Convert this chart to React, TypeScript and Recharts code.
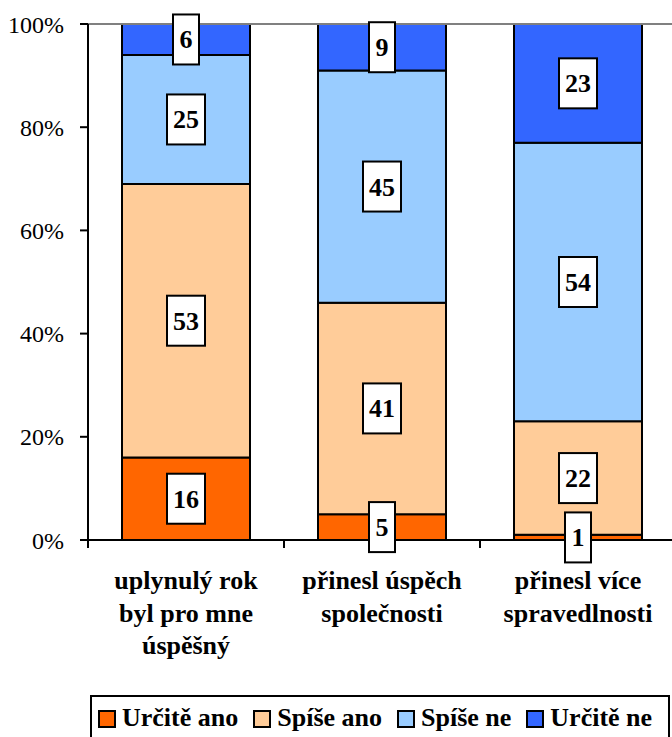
import React from "react";
import { BarChart, Bar, XAxis, YAxis, LabelList, ReferenceLine } from "recharts";

const categories = ["uplynulý rok byl pro mne úspěšný", "přinesl úspěch společnosti", "přinesl více spravedlnosti"];
const categoryLines = [
  ["uplynulý rok", "byl pro mne", "úspěšný"],
  ["přinesl úspěch", "společnosti"],
  ["přinesl více", "spravedlnosti"],
];
const urciteAno = [16, 5, 1];
const spiseAno = [53, 41, 22];
const spiseNe = [25, 45, 54];
const urciteNe = [6, 9, 23];
const yTicks = [0, 20, 40, 60, 80, 100];

const series = [
  { key: "urciteAno", name: "Určitě ano", color: "#FF6600", values: urciteAno },
  { key: "spiseAno", name: "Spíše ano", color: "#FFCC99", values: spiseAno },
  { key: "spiseNe", name: "Spíše ne", color: "#99CCFF", values: spiseNe },
  { key: "urciteNe", name: "Určitě ne", color: "#3366FF", values: urciteNe },
];

const data = categories.map((name, i) => {
  const row: any = { name };
  series.forEach((s) => (row[s.key] = s.values[i]));
  return row;
});

const FONT = '"Times New Roman", Times, "Liberation Serif", serif';

const CategoryTick = (props: any) => {
  const { x, y, payload } = props;
  const idx = categories.indexOf(payload.value);
  const half = payload.offset || 98;
  const lines = categoryLines[idx] || [];
  return (
    <g>
      <line x1={x - half} x2={x - half} y1={y} y2={y + 8} stroke="#000" strokeWidth={2} />
      {idx === categories.length - 1 && (
        <line x1={x + half} x2={x + half} y1={y} y2={y + 8} stroke="#000" strokeWidth={2} />
      )}
      <text x={x} y={y + 49} textAnchor="middle" style={{ fontFamily: FONT }} fontWeight="bold" fontSize={26} fill="#000">
        {lines.map((l, i) => (
          <tspan key={i} x={x} dy={i === 0 ? 0 : 32.5}>
            {l}
          </tspan>
        ))}
      </text>
    </g>
  );
};

const BoxLabel = (props: any) => {
  const { x, y, width, height, value } = props;
  if (value == null) return null;
  const cx = x + width / 2;
  const cy = y + height / 2;
  const str = String(value);
  const w = str.length === 1 ? 26 : 38;
  const h = 50;
  return (
    <g>
      <rect x={cx - w / 2} y={cy - h / 2} width={w} height={h} fill="#fff" stroke="#000" strokeWidth={2} />
      <text x={cx} y={cy + 9} textAnchor="middle" style={{ fontFamily: FONT }} fontWeight="bold" fontSize={26} fill="#000">
        {str}
      </text>
    </g>
  );
};

export default function App() {
  return (
    <div style={{ position: "absolute", left: 0, top: 0, width: 672, height: 737, overflow: "hidden", background: "#fff", fontFamily: FONT }}>
      <BarChart
        width={700}
        height={680}
        data={data}
        margin={{ top: 24, right: 24, left: 0, bottom: 0 }}
        barCategoryGap={34}
        style={{ fontFamily: FONT }}
      >
        <ReferenceLine y={100} stroke="#808080" strokeWidth={2} />
        <YAxis
          type="number"
          domain={[0, 100]}
          ticks={yTicks}
          width={88}
          tickFormatter={(v) => `${v}%`}
          tick={{ fontSize: 24, fontFamily: FONT, fill: "#000" }}
          tickSize={8}
          tickMargin={16}
          axisLine={{ stroke: "#000", strokeWidth: 2 }}
          tickLine={{ stroke: "#000", strokeWidth: 2 }}
          allowDataOverflow
        />
        <XAxis
          dataKey="name"
          height={140}
          tick={<CategoryTick />}
          tickLine={false}
          tickSize={0}
          tickMargin={0}
          interval={0}
          axisLine={{ stroke: "#000", strokeWidth: 2 }}
        />
        {series.map((s) => (
          <Bar
            key={s.key}
            dataKey={s.key}
            name={s.name}
            stackId="a"
            fill={s.color}
            stroke="#000"
            strokeWidth={2}
            isAnimationActive={false}
          >
            <LabelList dataKey={s.key} content={<BoxLabel />} />
          </Bar>
        ))}
      </BarChart>
      <div
        style={{
          position: "absolute",
          left: 90,
          top: 695,
          width: 580,
          height: 60,
          border: "2px solid #000",
          boxSizing: "border-box",
          display: "flex",
          alignItems: "flex-start",
          paddingLeft: 6,
          paddingTop: 6,
          gap: 15,
          fontFamily: FONT,
          fontWeight: "bold",
          fontSize: 26,
          lineHeight: "30px",
          whiteSpace: "nowrap",
        }}
      >
        {series.map((s) => (
          <div key={s.key} style={{ display: "flex", alignItems: "center", gap: 6 }}>
            <span
              style={{
                display: "inline-block",
                width: 14,
                height: 14,
                background: s.color,
                border: "2px solid #000",
                marginTop: 2,
              }}
            />
            <span>{s.name}</span>
          </div>
        ))}
      </div>
    </div>
  );
}
